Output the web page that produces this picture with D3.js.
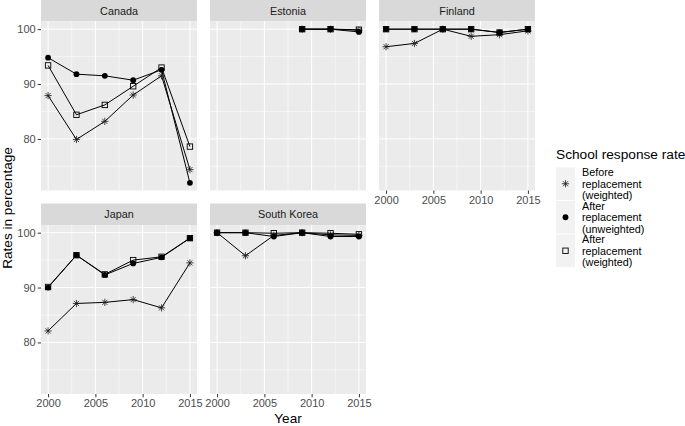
<!DOCTYPE html>
<html>
<head>
<meta charset="utf-8">
<script src="https://cdn.jsdelivr.net/npm/d3@7"></script>
<style>
	body { margin: 0; background: #ffffff; }
	svg { display: block; font-family: "Liberation Sans", Arial, sans-serif; }
</style>
</head>
<body>
<div id="chart"></div>
<script>
	"use strict";

	// survey years and panels
	var years = [2000, 2003, 2006, 2009, 2012, 2015];
	var countries = ["Canada", "Estonia", "Finland", "Japan", "South Korea"];
	var seriesNames = ["Before\nreplacement\n(weighted)", "After\nreplacement\n(unweighted)", "After\nreplacement\n(weighted)"];

	// values per country (same order as countries), null = no data
	var beforeWeighted = [
		[87.9, 79.9, 83.2, 88.0, 91.5, 74.4],
		[null, null, null, 100, 100, 99.8],
		[96.8, 97.4, 100, 98.7, 99.0, 99.7],
		[82.1, 87.1, 87.3, 87.8, 86.3, 94.5],
		[100, 95.8, 99.5, 100, 99.6, 99.5]
	];
	var afterUnweighted = [
		[94.8, 91.8, 91.5, 90.7, 92.6, 72.0],
		[null, null, null, 100, 100, 99.5],
		[100, 100, 100, 100, 99.4, 100],
		[90.0, 95.9, 92.3, 94.4, 95.5, 99.0],
		[100, 100, 99.3, 100, 99.3, 99.3]
	];
	var afterWeighted = [
		[93.4, 84.4, 86.2, 89.6, 93.0, 78.6],
		[null, null, null, 100, 100, 99.9],
		[100, 100, 100, 100, 99.4, 100],
		[90.1, 95.9, 92.4, 95.0, 95.6, 99.0],
		[100, 100, 99.9, 100, 99.9, 99.7]
	];

	var xMajor = [2000, 2005, 2010, 2015];
	var xMinor = [2002.5, 2007.5, 2012.5];
	var yMajor = [80, 90, 100];
	var yMinor = [75, 85, 95];

	var width = 685, height = 426;
	var panelW = 156, panelH = 169, stripH = 21.5;
	var colX = [41, 210, 379];
	var rowY = [0, 203.5];

	var svg = d3.select("#chart").append("svg")
		.attr("width", width)
		.attr("height", height);

	var x = d3.scaleLinear().domain([1999.25, 2015.75]).range([0, panelW]);
	var y = d3.scaleLinear().domain([70.6, 101.4]).range([panelH, 0]);

	// asterisk like ggplot shape 8
	function starPath(r) {
		var d = r * 0.7071;
		return "M" + (-r) + ",0L" + r + ",0M0," + (-r) + "L0," + r +
			"M" + (-d) + "," + (-d) + "L" + d + "," + d +
			"M" + (-d) + "," + d + "L" + d + "," + (-d);
	}

	function drawMarker(g, type, cx, cy) {
		if (type === 0) {
			g.append("path")
				.attr("d", starPath(3.6))
				.attr("transform", "translate(" + cx + "," + cy + ")")
				.attr("stroke", "#1a1a1a")
				.attr("stroke-width", 0.8)
				.attr("fill", "none");
		} else if (type === 1) {
			g.append("circle")
				.attr("cx", cx)
				.attr("cy", cy)
				.attr("r", 2.9)
				.attr("fill", "#000");
		} else {
			g.append("rect")
				.attr("x", cx - 2.7)
				.attr("y", cy - 2.7)
				.attr("width", 5.4)
				.attr("height", 5.4)
				.attr("fill", "none")
				.attr("stroke", "#000")
				.attr("stroke-width", 0.9);
		}
	}

	var allSeries = [beforeWeighted, afterUnweighted, afterWeighted];

	var line = d3.line()
		.defined(function (d) { return d.value !== null; })
		.x(function (d) { return x(d.year); })
		.y(function (d) { return y(d.value); });

	countries.forEach(function (country, ci) {
		var col = ci % 3, row = Math.floor(ci / 3);
		var left = colX[col];
		var stripTop = rowY[row];
		var top = stripTop + stripH;

		// strip
		svg.append("rect")
			.attr("x", left).attr("y", stripTop)
			.attr("width", panelW).attr("height", stripH)
			.attr("fill", "#d9d9d9");
		svg.append("text")
			.attr("x", left + panelW / 2)
			.attr("y", stripTop + stripH / 2 + 3.9)
			.attr("text-anchor", "middle")
			.attr("fill", "#1a1a1a")
			.style("font-size", "10.8px")
			.text(country);

		var g = svg.append("g")
			.attr("transform", "translate(" + left + "," + top + ")");

		g.append("rect")
			.attr("width", panelW).attr("height", panelH)
			.attr("fill", "#ebebeb");

		// grid
		g.selectAll(".ymin").data(yMinor).enter().append("line")
			.attr("x1", 0).attr("x2", panelW)
			.attr("y1", function (d) { return y(d); })
			.attr("y2", function (d) { return y(d); })
			.attr("stroke", "#fff").attr("stroke-width", 0.5);
		g.selectAll(".xmin").data(xMinor).enter().append("line")
			.attr("y1", 0).attr("y2", panelH)
			.attr("x1", function (d) { return x(d); })
			.attr("x2", function (d) { return x(d); })
			.attr("stroke", "#fff").attr("stroke-width", 0.5);
		g.selectAll(".ymaj").data(yMajor).enter().append("line")
			.attr("x1", 0).attr("x2", panelW)
			.attr("y1", function (d) { return y(d); })
			.attr("y2", function (d) { return y(d); })
			.attr("stroke", "#fff").attr("stroke-width", 1);
		g.selectAll(".xmaj").data(xMajor).enter().append("line")
			.attr("y1", 0).attr("y2", panelH)
			.attr("x1", function (d) { return x(d); })
			.attr("x2", function (d) { return x(d); })
			.attr("stroke", "#fff").attr("stroke-width", 1);

		// lines
		allSeries.forEach(function (s) {
			var pts = years.map(function (yr, i) {
				return { year: yr, value: s[ci][i] };
			});
			g.append("path")
				.datum(pts)
				.attr("d", line)
				.attr("fill", "none")
				.attr("stroke", "#000")
				.attr("stroke-width", 1);
		});

		// points
		allSeries.forEach(function (s, si) {
			years.forEach(function (yr, i) {
				var v = s[ci][i];
				if (v === null) return;
				drawMarker(g, si, x(yr), y(v));
			});
		});

		// y axis on first column
		if (col === 0) {
			var ya = g.append("g")
				.call(d3.axisLeft(y).tickValues(yMajor).tickSize(3.3).tickPadding(2));
			ya.select(".domain").remove();
			ya.selectAll("line").attr("stroke", "#333333");
			ya.selectAll("text").attr("fill", "#4d4d4d")
				.style("font-size", "11px")
				.style("font-family", "\"Liberation Sans\", Arial, sans-serif");
		}

		// x axis on bottom panels of each column
		if (row === 1 || col === 2) {
			var xa = g.append("g")
				.attr("transform", "translate(0," + panelH + ")")
				.call(d3.axisBottom(x).tickValues(xMajor).tickFormat(d3.format("d")).tickSize(3.3).tickPadding(2));
			xa.select(".domain").remove();
			xa.selectAll("line").attr("stroke", "#333333");
			xa.selectAll("text").attr("fill", "#4d4d4d")
				.style("font-size", "11px")
				.style("font-family", "\"Liberation Sans\", Arial, sans-serif");
		}
	});

	// axis titles
	svg.append("text")
		.attr("x", (colX[0] + colX[2] + panelW) / 2)
		.attr("y", 423)
		.attr("text-anchor", "middle")
		.attr("fill", "#000")
		.style("font-size", "13.6px")
		.text("Year");

	svg.append("text")
		.attr("transform", "translate(12,208) rotate(-90)")
		.attr("text-anchor", "middle")
		.attr("fill", "#000")
		.style("font-size", "13.6px")
		.text("Rates in percentage");

	// legend
	var legend = svg.append("g").attr("transform", "translate(556,0)");
	legend.append("text")
		.attr("x", 0)
		.attr("y", 159)
		.attr("fill", "#000")
		.style("font-size", "13.7px")
		.text("School response rate");

	var keyTops = [167.5, 201, 234.5];
	var keyH = 32.5;
	seriesNames.forEach(function (name, i) {
		var kt = keyTops[i];
		legend.append("rect")
			.attr("x", 0).attr("y", kt)
			.attr("width", 19).attr("height", keyH)
			.attr("fill", "#f2f2f2");
		drawMarker(legend, i, 9.5, kt + keyH / 2);
		var lines = name.split("\n");
		lines.forEach(function (ln, j) {
			legend.append("text")
				.attr("x", 26)
				.attr("y", kt + keyH / 2 + (j - 1) * 11.4 + 3.9)
				.attr("fill", "#000")
				.style("font-size", "10.8px")
				.text(ln);
		});
	});
</script>
</body>
</html>
